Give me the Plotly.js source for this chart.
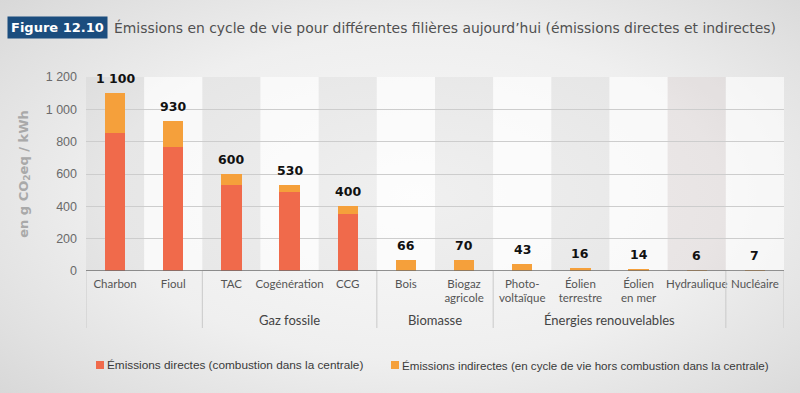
<!DOCTYPE html>
<html>
<head>
<meta charset="utf-8">
<script src="https://cdn.plot.ly/plotly-3.0.1.min.js"></script>
<style>
html,body{margin:0;padding:0;}
body{width:800px;height:393px;overflow:hidden;
background: radial-gradient(ellipse 70% 75% at 52% 50%, #f9f9f9 0%, #efefef 55%, #e0e0e0 85%, #d8d8d8 100%);}
#chart{width:800px;height:393px;}
</style>
</head>
<body>
<div id="chart"></div>
<script>
// ---- data ----
var categories = ["Charbon", "Fioul", "TAC", "Cogénération", "CCG", "Bois", "Biogaz<br>agricole",
  "Photo-<br>voltaïque", "Éolien<br>terrestre", "Éolien<br>en mer", "Hydraulique", "Nucléaire"];
var directes   = [855, 765, 532, 490, 353, 0, 0, 0, 0, 0, 0, 0];
var indirectes = [245, 165, 68, 40, 47, 66, 70, 43, 16, 14, 6, 7];
var totals     = [1100, 930, 600, 530, 400, 66, 70, 43, 16, 14, 6, 7];
var totalLabels = ["1 100", "930", "600", "530", "400", "66", "70", "43", "16", "14", "6", "7"];
var groups = ["Gaz fossile", "Biomasse", "Énergies renouvelables"];
var groupCenters = [3, 5.5, 8.5];
var groupBounds = [-0.5, 1.5, 4.5, 6.5, 10.5, 11.5];
var yTicks = [0, 200, 400, 600, 800, 1000, 1200];
var yTickText = ["0", "200", "400", "600", "800", "1 000", "1 200"];
var seriesNames = ["Émissions directes (combustion dans la centrale)",
  "Émissions indirectes (en cycle de vie hors combustion dans la centrale)"];
var seriesColors = ['#f06a4b', '#f5a03b'];

var idx = categories.map(function(c, i){ return i; });

var traces = [
  {type:'bar', x: idx, y: directes, name: seriesNames[0], width: 0.35,
   marker:{color:seriesColors[0]}, hoverinfo:'skip', showlegend:false},
  {type:'bar', x: idx, y: indirectes, name: seriesNames[1], width: 0.35,
   marker:{color:seriesColors[1]}, hoverinfo:'skip', showlegend:false}
];

// pixel helpers (plot area: x 86..784, y 77..271)
var L = 86, R = 784, T = 77, B = 271;
function px(x){ return (x - L) / (R - L); }
function py(y){ return (B - y) / (B - T); }

var shapes = [];
// alternating column stripes
idx.forEach(function(i){
  var col;
  if (i === 10) col = 'rgba(190,160,165,0.14)';
  else if (i % 2 === 0) col = 'rgba(0,0,0,0.035)';
  else col = 'rgba(255,255,255,0.6)';
  shapes.push({type:'rect', xref:'x', yref:'y', x0:i-0.5, x1:i+0.5, y0:0, y1:1200,
    fillcolor: col, line:{width:0}, layer:'below'});
});
// group separators below axis
groupBounds.forEach(function(b){
  shapes.push({type:'line', xref:'x', yref:'paper', x0:b, x1:b, y0:0, y1:py(328),
    line:{color:'#c9c9c9', width:1}});
});
// axis line at zero
shapes.push({type:'line', xref:'paper', yref:'y', x0:0, x1:1, y0:0, y1:0,
  line:{color:'#6e6e6e', width:1.3}});
// legend squares
var legendX = [96, 391];
legendX.forEach(function(x, k){
  shapes.push({type:'rect', xref:'paper', yref:'paper', x0:px(x), x1:px(x+8),
    y0:py(369), y1:py(361), fillcolor:seriesColors[k], line:{width:0}});
});

var annotations = [];
idx.forEach(function(i){
  annotations.push({x:i, y:totals[i], xref:'x', yref:'y', text: totalLabels[i],
    showarrow:false, yanchor:'bottom', yshift:5,
    font:{family:'DejaVu Sans', size:12.5, color:'#111', weight:'bold'}});
});
groups.forEach(function(g, k){
  annotations.push({x:groupCenters[k], y:py(320), xref:'x', yref:'paper', text:g,
    showarrow:false, yanchor:'middle',
    font:{family:'Lato', size:13, color:'#444'}});
});
// legend texts
var legendSizes = [11.8, 11.6];
seriesNames.forEach(function(n, k){
  annotations.push({xref:'paper', yref:'paper', x:px(legendX[k] + 9), y:py(365), text:n,
    showarrow:false, xanchor:'left', yanchor:'middle',
    font:{family:'Liberation Sans, Arial, sans-serif', size:legendSizes[k], color:'#3a3a3a'}});
});
// title pieces
annotations.push({xref:'paper', yref:'paper', x:px(7), y:py(27),
  text:'<b>Figure 12.10</b>', showarrow:false, xanchor:'left', yanchor:'middle',
  bgcolor:'#1b4d7e', borderpad:3,
  font:{family:'DejaVu Sans', size:13, color:'#ffffff'}});
annotations.push({xref:'paper', yref:'paper', x:px(112), y:py(27),
  text:'Émissions en cycle de vie pour différentes filières aujourd’hui (émissions directes et indirectes)',
  showarrow:false, xanchor:'left', yanchor:'middle',
  font:{family:'DejaVu Sans', size:13.9, color:'#505050'}});

var layout = {
  width:800, height:393,
  margin:{l:L, r:800-R, t:T, b:393-B},
  paper_bgcolor:'rgba(0,0,0,0)', plot_bgcolor:'rgba(0,0,0,0)',
  barmode:'stack',
  showlegend:false,
  xaxis:{range:[-0.5, 11.5], tickvals: idx, ticktext: categories, showgrid:false,
    zeroline:false, ticks:'', showline:false, fixedrange:true, automargin:false,
    ticklabelstandoff:4,
    tickfont:{family:'Lato', size:11.5, color:'#555'}},
  yaxis:{range:[0, 1200], tickvals: yTicks, ticktext: yTickText, showgrid:true,
    gridcolor:'#cdcdcd', gridwidth:1, zeroline:false, showline:false, ticks:'',
    ticklabelstandoff:8, automargin:false,
    tickfont:{family:'Liberation Sans, Arial, sans-serif', size:12.5, color:'#6a6a6a'},
    title:{text:'<b>en g CO<sub>2</sub>eq / kWh</b>', standoff:14,
      font:{family:'DejaVu Sans', size:13, color:'#a9a9a9'}}},
  shapes: shapes,
  annotations: annotations
};

Plotly.newPlot('chart', traces, layout, {displayModeBar:false, staticPlot:true});
</script>
</body>
</html>
